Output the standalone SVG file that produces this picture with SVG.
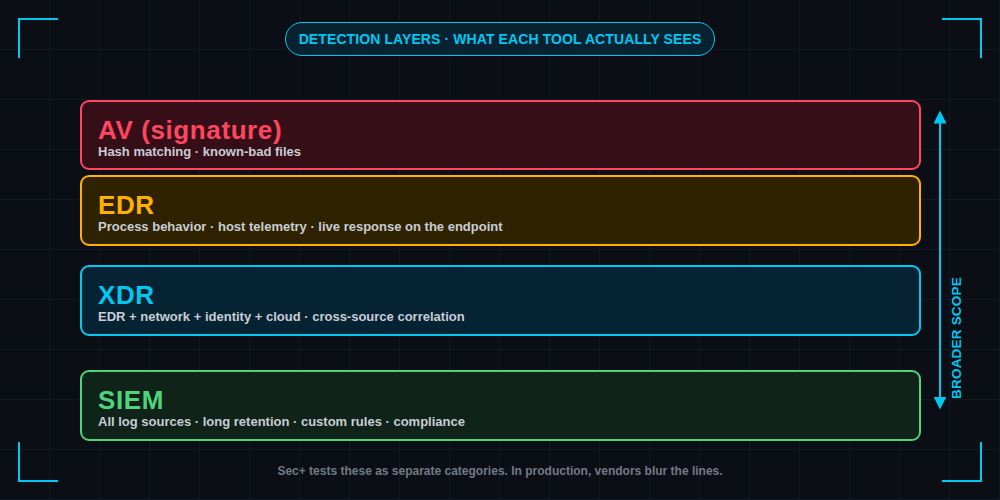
<svg xmlns="http://www.w3.org/2000/svg" width="1000" height="500" viewBox="0 0 1000 500">
<defs>
<pattern id="grid" width="50" height="50" patternUnits="userSpaceOnUse"><path d="M50 0V50M0 50H50" fill="none" stroke="#13242c" stroke-width="1"/></pattern>
<marker id="ah" viewBox="0 0 10 10" refX="5" refY="5" markerWidth="13" markerHeight="13" markerUnits="userSpaceOnUse" orient="auto-start-reverse"><path d="M0 0L10 5L0 10Z" fill="#00c8f0"/></marker>
<style>
.t{font-family:"Liberation Sans",Arial,sans-serif;font-weight:bold}
.h{font-size:26px;letter-spacing:0.6px}.s{font-size:13px;fill:#c8cdd6}
.c{fill:none;stroke:#00c8f0;stroke-width:2}
</style>
</defs>
<rect width="1000" height="500" fill="#0b0e15"/>
<rect width="1000" height="500" fill="url(#grid)"/>
<path class="c" d="M19 58V19H58M942 19H981V58M19 442V481H58M942 481H981V442"/>
<g id="title"><rect x="285.5" y="22.5" width="429" height="33" rx="16.5" fill="#082232" stroke="#00c8f0"/><text class="t" x="500" y="44" text-anchor="middle" font-size="14" fill="#00c8f0" letter-spacing="0.1">DETECTION LAYERS · WHAT EACH TOOL ACTUALLY SEES</text></g>
<g id="av"><rect x="81" y="101" width="839" height="68" rx="8" fill="#360e17" stroke="#ff4560" stroke-width="2"/><text class="t h" x="98" y="139" fill="#ff4560">AV (signature)</text><text class="t s" x="98" y="156">Hash matching · known-bad files</text></g>
<g id="edr"><rect x="81" y="176" width="839" height="69" rx="8" fill="#2f2200" stroke="#ffb000" stroke-width="2"/><text class="t h" x="98" y="214" fill="#ffb000">EDR</text><text class="t s" x="98" y="231">Process behavior · host telemetry · live response on the endpoint</text></g>
<g id="xdr"><rect x="81" y="266" width="839" height="69" rx="8" fill="#062333" stroke="#00c8f0" stroke-width="2"/><text class="t h" x="98" y="304" fill="#00c8f0">XDR</text><text class="t s" x="98" y="321">EDR + network + identity + cloud · cross-source correlation</text></g>
<g id="siem"><rect x="81" y="371" width="839" height="69" rx="8" fill="#0f2318" stroke="#4ed47e" stroke-width="2"/><text class="t h" x="98" y="409" fill="#4ed47e">SIEM</text><text class="t s" x="98" y="426">All log sources · long retention · custom rules · compliance</text></g>
<g id="connectors"><line x1="940" y1="117" x2="940" y2="403" stroke="#00c8f0" stroke-width="2" marker-start="url(#ah)" marker-end="url(#ah)"/></g>
<text class="t" transform="translate(961 338) rotate(-90)" text-anchor="middle" font-size="13.5" fill="#00c8f0" letter-spacing="0.2">BROADER SCOPE</text>
<text x="500" y="475" text-anchor="middle" font-family="Liberation Sans,Arial,sans-serif" font-weight="bold" font-size="12" fill="#737a87">Sec+ tests these as separate categories. In production, vendors blur the lines.</text>
</svg>
